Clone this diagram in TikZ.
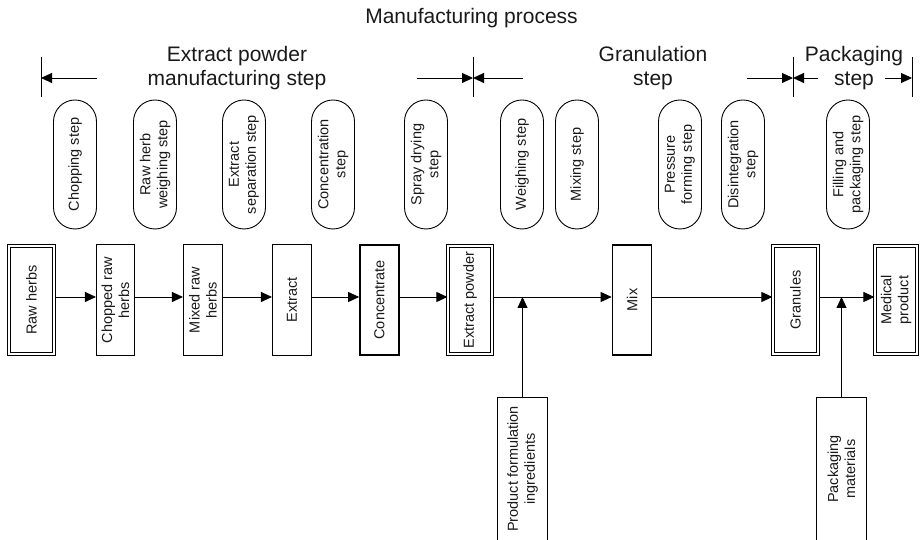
\documentclass[tikz,border=0pt]{standalone}
\usepackage{fontspec}
\setmainfont{Liberation Sans}
\usetikzlibrary{arrows.meta,shapes.misc}
\begin{document}
\begin{tikzpicture}[x=1pt,y=1pt,
  every node/.style={inner sep=0pt, font=\fontsize{14.5}{17}\selectfont, text=black!90},
  heading/.style={font=\fontsize{21}{24}\selectfont, align=center},
  pill/.style={draw, rounded rectangle, rotate=90, minimum width=129pt, minimum height=43pt, align=center, line width=0.9pt},
  stock/.style={draw, rotate=90, minimum width=110.8pt, align=center, line width=1.1pt},
  dstock/.style={stock, double, double distance=2pt, line width=0.8pt, minimum width=108.4pt},
  heavy/.style={stock, line width=1.7pt, minimum width=110.3pt},
  feed/.style={rotate=90, minimum height=49pt, minimum width=142pt, align=center},
  flow/.style={-{Triangle[length=11pt,width=10pt]}, line width=0.9pt},
  bar/.style={line width=0.9pt},
  openbox/.style={line width=1.1pt}
]
\useasboundingbox (0,0) rectangle (920,540);

% headings
\node[heading] (t0) at (471.5,522) {Manufacturing process};
\node[heading] (h1) at (237,472) {Extract powder\\manufacturing step};
\node[heading] (h2) at (653,472) {Granulation\\step};
\node[heading] (h3) at (854,472) {Packaging\\step};

% stage dividers
\coordinate (d1) at (41,462);
\coordinate (d2) at (473,462);
\coordinate (d3) at (793,462);
\coordinate (d4) at (912,462);
\foreach \d in {d1,d2,d3,d4}
  \draw[bar] ([yshift=-19pt]\d) -- ([yshift=21pt]\d);
\coordinate (a1) at (97,462);
\coordinate (a2) at (417,462);
\coordinate (a3) at (523,462);
\coordinate (a4) at (747,462);
\coordinate (a5) at (818,462);
\coordinate (a6) at (885,462);
\draw[flow] (a1) -- (d1);
\draw[flow] (a2) -- (d2);
\draw[flow] (a3) -- (d2);
\draw[flow] (a4) -- (d3);
\draw[flow] (a5) -- (d3);
\draw[flow] (a6) -- (d4);

% process steps
\node[pill] (p1)  at (75,375.5)  {Chopping step};
\node[pill] (p2)  at (155,375.5) {Raw herb\\weighing step};
\node[pill] (p3)  at (244,375.5) {Extract\\separation step};
\node[pill] (p4)  at (333,375.5) {Concentration\\step};
\node[pill] (p5)  at (426,375.5) {Spray drying\\step};
\node[pill] (p6)  at (522,375.5) {Weighing step};
\node[pill] (p7)  at (577,375.5) {Mixing step};
\node[pill] (p8)  at (680,375.5) {Pressure\\forming step};
\node[pill] (p9)  at (743,375.5) {Disintegration\\step};
\node[pill] (p10) at (848,375.5) {Filling and\\packaging step};

% materials
\node[dstock, minimum height=45.4pt] (b1) at (31.5,240) {Raw herbs};
\node[stock, minimum height=38pt]    (b2) at (115.5,240) {Chopped raw\\herbs};
\node[stock, minimum height=39pt]    (b3) at (203,240) {Mixed raw\\herbs};
\node[stock, minimum height=39pt]    (b4) at (292,240) {Extract};
\node[heavy, minimum height=39pt]    (b5) at (379.5,240) {Concentrate};
\node[dstock, minimum height=44.4pt] (b6) at (470,240) {Extract powder};
\node[heavy, minimum height=39pt]    (b7) at (632,240) {Mix};
\node[dstock, minimum height=45.4pt] (b8) at (795.5,240) {Granules};
\node[dstock, minimum height=42.4pt] (b9) at (896,240) {Medical\\product};

\draw[flow] ([yshift=3pt]b1.south) -- ([yshift=3pt]b2.north);
\draw[flow] ([yshift=3pt]b2.south) -- ([yshift=3pt]b3.north);
\draw[flow] ([yshift=3pt]b3.south) -- ([yshift=3pt]b4.north);
\draw[flow] ([yshift=3pt]b4.south) -- ([yshift=3pt]b5.north);
\draw[flow] ([yshift=3pt]b5.south) -- ([yshift=3pt]b6.north);
\draw[flow] ([yshift=3pt]b6.south) -- ([yshift=3pt]b7.north);
\draw[flow] ([yshift=3pt]b7.south) -- ([yshift=3pt]b8.north);
\draw[flow] ([yshift=3pt]b8.south) -- ([yshift=3pt]b9.north);

% added inputs
\node[feed] (f1) at (522.5,71) {Product formulation\\ingredients};
\node[feed] (f2) at (841.5,71) {Packaging\\materials};
\foreach \f in {f1,f2}
  \draw[openbox] ([yshift=-8pt]\f.north west) -- (\f.north east) -- (\f.south east) -- ([yshift=-8pt]\f.south west);
\coordinate (j1) at (522.5,243);
\coordinate (j2) at (841.5,243);
\draw[flow] (f1.east) -- (j1);
\draw[flow] (f2.east) -- (j2);
\end{tikzpicture}
\end{document}
